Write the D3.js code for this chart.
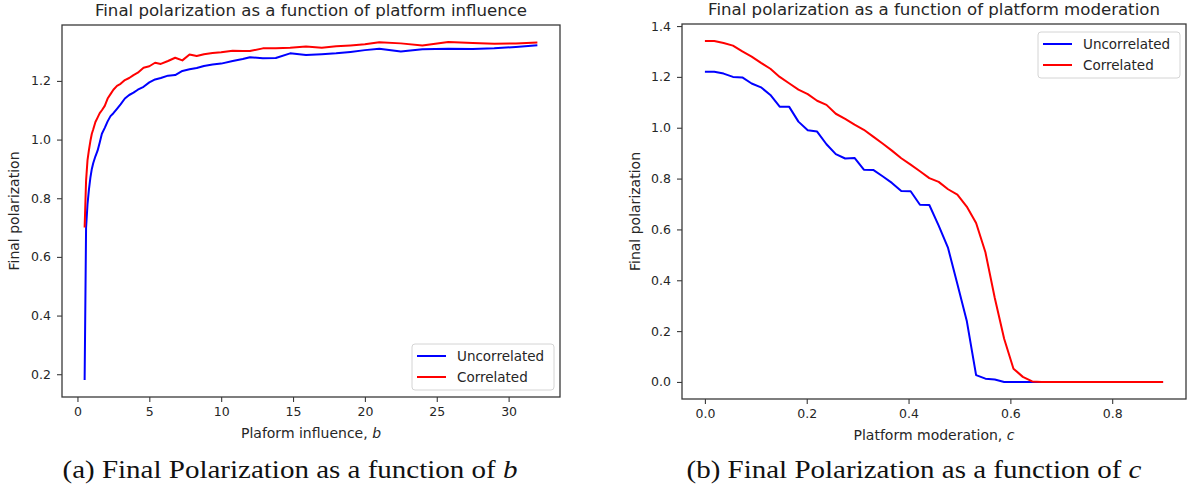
<!DOCTYPE html>
<html>
<head>
<meta charset="utf-8">
<script src="https://cdn.jsdelivr.net/npm/d3@7/dist/d3.min.js"></script>
<style>
  html, body { margin: 0; padding: 0; background: #fff; }
  svg { display: block; }
</style>
</head>
<body>
<div id="chart"></div>
<script>
/* ---- data ---- */
var seriesNames  = ['Uncorrelated', 'Correlated'];
var seriesColors = ['#0000ff', '#ff0000'];

// (a) platform influence b
var bValues = [0.5, 0.6, 0.7, 0.8, 0.9, 1.0, 1.1, 1.25, 1.4, 1.55, 1.7, 1.9, 2.1, 2.3, 2.5,
  2.75, 3.0, 3.3, 3.6, 3.9, 4.2, 4.6, 5.0, 5.4, 5.8, 6.3, 6.8, 7.3, 7.8, 8.3, 8.8, 9.4,
  10.0, 10.8, 11.5, 12.0, 12.9, 13.8, 14.8, 15.9, 17.0, 18.0, 19.0, 20.0, 21.0, 22.5,
  24.0, 25.8, 27.5, 29.0, 30.5, 32.0];
var bUncorrelated = [0.18, 0.70, 0.78, 0.83, 0.87, 0.90, 0.92, 0.943, 0.962, 0.99, 1.02,
  1.04, 1.062, 1.08, 1.09, 1.105, 1.12, 1.14, 1.152, 1.16, 1.17, 1.18, 1.195, 1.205, 1.21,
  1.218, 1.22, 1.234, 1.24, 1.244, 1.251, 1.256, 1.259, 1.268, 1.275, 1.281, 1.277, 1.278,
  1.294, 1.288, 1.291, 1.294, 1.299, 1.305, 1.31, 1.30, 1.308, 1.31, 1.309, 1.311, 1.316,
  1.322];
var bCorrelated = [0.70, 0.86, 0.93, 0.965, 0.995, 1.02, 1.035, 1.06, 1.075, 1.09, 1.10,
  1.115, 1.14, 1.155, 1.17, 1.183, 1.19, 1.203, 1.21, 1.22, 1.228, 1.245, 1.25, 1.262,
  1.258, 1.268, 1.279, 1.27, 1.29, 1.285, 1.291, 1.295, 1.298, 1.303, 1.302, 1.302, 1.311,
  1.311, 1.313, 1.317, 1.313, 1.318, 1.321, 1.325, 1.332, 1.328, 1.321, 1.333, 1.329,
  1.327, 1.328, 1.331];

// (b) platform moderation c
var cValues = [0, 0.0184, 0.0367, 0.0551, 0.0735, 0.0918, 0.1102, 0.1286, 0.1469, 0.1653,
  0.1837, 0.2020, 0.2204, 0.2388, 0.2571, 0.2755, 0.2939, 0.3122, 0.3306, 0.3490, 0.3673,
  0.3857, 0.4041, 0.4224, 0.4408, 0.4592, 0.4776, 0.4959, 0.5143, 0.5327, 0.5510, 0.5694,
  0.5878, 0.6061, 0.6245, 0.6429, 0.6612, 0.6796, 0.6980, 0.7163, 0.7347, 0.7531, 0.7714,
  0.7898, 0.8082, 0.8265, 0.8449, 0.8633, 0.8816, 0.9];
var cUncorrelated = [1.22, 1.22, 1.213, 1.20, 1.198, 1.174, 1.159, 1.129, 1.083, 1.083,
  1.024, 0.99, 0.985, 0.935, 0.896, 0.879, 0.881, 0.835, 0.834, 0.809, 0.783, 0.751, 0.750,
  0.697, 0.696, 0.615, 0.527, 0.385, 0.241, 0.027, 0.013, 0.010, 0, 0, 0, 0, 0, 0, 0, 0,
  0, 0, 0, 0, 0, 0, 0, 0, 0, 0];
var cCorrelated = [1.341, 1.341, 1.333, 1.323, 1.30, 1.28, 1.255, 1.232, 1.20, 1.175, 1.15,
  1.132, 1.106, 1.09, 1.055, 1.035, 1.012, 0.992, 0.965, 0.938, 0.91, 0.88, 0.855, 0.829,
  0.802, 0.787, 0.758, 0.737, 0.69, 0.625, 0.51, 0.33, 0.17, 0.052, 0.02, 0.002, 0, 0, 0,
  0, 0, 0, 0, 0, 0, 0, 0, 0, 0, 0];

// ticks
var bXTicks = [0, 5, 10, 15, 20, 25, 30];
var bYTicks = [0.2, 0.4, 0.6, 0.8, 1.0, 1.2];
var cXTicks = [0, 0.2, 0.4, 0.6, 0.8];
var cYTicks = [0, 0.2, 0.4, 0.6, 0.8, 1.0, 1.2, 1.4];

/* ---- drawing ---- */
var W = 1188, H = 495;
var SANS = "'DejaVu Sans', sans-serif";
var SERIF = "'Liberation Serif', 'DejaVu Serif', serif";
var INK = '#262626', SPINE = '#3a3a3a';

var svg = d3.select('#chart').append('svg')
  .attr('width', W).attr('height', H)
  .attr('viewBox', '0 0 ' + W + ' ' + H);

// matplotlib-style 5% margins around the data
function padded(ext) {
  var r = ext[1] - ext[0];
  return [ext[0] - 0.05 * r, ext[1] + 0.05 * r];
}

function drawPanel(p) {
  var g = svg.append('g');
  var x = d3.scaleLinear().domain(padded(d3.extent(p.xs))).range([p.l, p.r]);
  var y = d3.scaleLinear()
    .domain(padded(d3.extent(p.series[0].concat(p.series[1]))))
    .range([p.b, p.t]);

  /* axes */
  var xa = g.append('g').attr('transform', 'translate(0,' + p.b + ')')
    .call(d3.axisBottom(x).tickValues(p.xTicks).tickSize(5).tickPadding(5)
      .tickFormat(p.xFmt));
  var ya = g.append('g').attr('transform', 'translate(' + p.l + ',0)')
    .call(d3.axisLeft(y).tickValues(p.yTicks).tickSize(5).tickPadding(6)
      .tickFormat(d3.format('.1f')));
  [xa, ya].forEach(function (a) {
    a.select('.domain').remove();
    a.selectAll('.tick line').attr('stroke', SPINE).attr('stroke-width', 1.1);
    a.selectAll('.tick text').attr('fill', INK)
      .attr('font-family', SANS).attr('font-size', 12.5);
  });

  /* lines */
  var line = d3.line()
    .x(function (d) { return x(d[0]); })
    .y(function (d) { return y(d[1]); });
  p.series.forEach(function (vals, i) {
    g.append('path')
      .datum(p.xs.map(function (v, k) { return [v, vals[k]]; }))
      .attr('d', line)
      .attr('fill', 'none')
      .attr('stroke', seriesColors[i])
      .attr('stroke-width', 2)
      .attr('stroke-linejoin', 'round');
  });

  /* frame */
  g.append('rect')
    .attr('x', p.l).attr('y', p.t)
    .attr('width', p.r - p.l).attr('height', p.b - p.t)
    .attr('fill', 'none').attr('stroke', SPINE).attr('stroke-width', 1.3);

  /* title + labels */
  var cx = (p.l + p.r) / 2;
  g.append('text').attr('x', cx).attr('y', p.titleY)
    .attr('text-anchor', 'middle').attr('font-family', SANS)
    .attr('font-size', 16.6).attr('fill', INK).text(p.title);

  var xl = g.append('text').attr('x', cx).attr('y', p.b + 41)
    .attr('text-anchor', 'middle').attr('font-family', SANS)
    .attr('font-size', 14).attr('fill', INK);
  xl.append('tspan').text(p.xLabel);
  xl.append('tspan').attr('font-style', 'italic').text(p.xVar);

  g.append('text')
    .attr('transform', 'translate(' + p.yLabelX + ',' + ((p.t + p.b) / 2) + ') rotate(-90)')
    .attr('text-anchor', 'middle').attr('font-family', SANS)
    .attr('font-size', 14).attr('fill', INK).text('Final polarization');

  /* legend */
  var lw = 142, lh = 46;
  var lx = p.r - 6 - lw;
  var ly = p.legendTop ? p.t + 8 : p.b - 7 - lh;
  g.append('rect').attr('x', lx).attr('y', ly).attr('width', lw).attr('height', lh)
    .attr('rx', 3).attr('fill', '#fff').attr('fill-opacity', 0.8)
    .attr('stroke', '#d4d4d4').attr('stroke-width', 1);
  seriesNames.forEach(function (name, i) {
    var yy = ly + 12 + i * 21;
    g.append('line').attr('x1', lx + 5).attr('x2', lx + 34)
      .attr('y1', yy).attr('y2', yy)
      .attr('stroke', seriesColors[i]).attr('stroke-width', 2);
    g.append('text').attr('x', lx + 45).attr('y', yy + 5)
      .attr('font-family', SANS).attr('font-size', 13.5).attr('fill', INK)
      .text(name);
  });

  /* caption under the subfigure */
  var cap = svg.append('text').attr('x', p.capX).attr('y', 478)
    .attr('text-anchor', 'middle').attr('font-family', SERIF)
    .attr('font-size', 26).attr('fill', '#111')
    .attr('textLength', 455).attr('lengthAdjust', 'spacingAndGlyphs');
  cap.append('tspan').text(p.caption);
  cap.append('tspan').attr('font-style', 'italic').text(p.xVar);
}

drawPanel({
  xs: bValues, series: [bUncorrelated, bCorrelated],
  l: 62, r: 560, t: 25, b: 397,
  xTicks: bXTicks, yTicks: bYTicks, xFmt: d3.format('d'),
  title: 'Final polarization as a function of platform influence', titleY: 16,
  xLabel: 'Plaform influence, ', xVar: 'b', yLabelX: 19,
  legendTop: false,
  caption: '(a) Final Polarization as a function of ', capX: 290
});

drawPanel({
  xs: cValues, series: [cUncorrelated, cCorrelated],
  l: 682, r: 1186, t: 24, b: 399,
  xTicks: cXTicks, yTicks: cYTicks, xFmt: d3.format('.1f'),
  title: 'Final polarization as a function of platform moderation', titleY: 15,
  xLabel: 'Platform moderation, ', xVar: 'c', yLabelX: 640,
  legendTop: true,
  caption: '(b) Final Polarization as a function of ', capX: 914
});
</script>
</body>
</html>
